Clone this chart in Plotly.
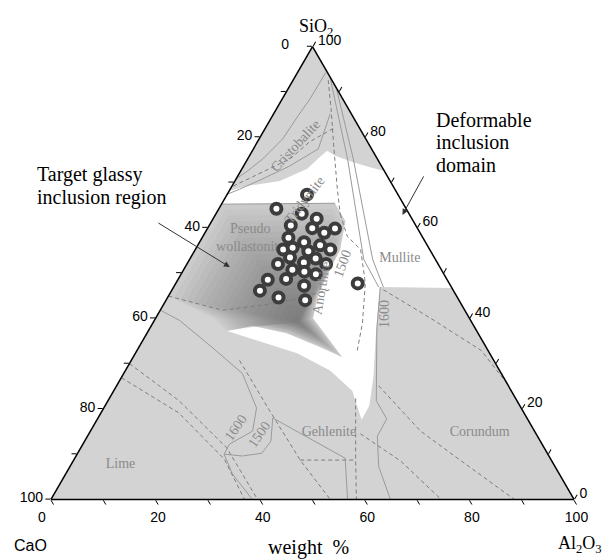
import plotly.graph_objects as go

# ---------------- data (wt %) ----------------
# inclusion compositions
incl_sio2 = [67.3, 64.2, 63.1, 62.0, 59.8, 60.5, 59.9, 58.9, 57.8, 56.8, 56.1, 55.2, 55.2, 55.6, 54.8,
             53.4, 53.2, 52.0, 52.0, 52.3, 50.7, 49.7, 50.3, 48.7, 48.5, 47.2, 46.1, 44.6, 44.0, 47.7]
incl_al2o3 = [15.3, 11.0, 16.4, 19.8, 24.4, 15.6, 20.0, 22.8, 16.5, 20.0, 23.4, 25.8, 16.8, 18.4, 21.8,
              19.0, 24.0, 26.6, 17.4, 22.2, 20.8, 25.8, 23.3, 20.6, 17.2, 24.8, 16.9, 21.2, 26.6, 34.8]

# deformable inclusion domain (white field)
white_sio2 = [68.1, 69.2, 70.3, 73.0, 75.6, 77.0, 75.9, 74.5, 73.2, 72.5, 46.7, 46.9, 38.0, 26.9,
              20.7, 17.6, 21.8, 24.0, 28.5, 32.3, 34.7, 37.2, 65.2]
white_al2o3 = [0.0, 2.8, 8.6, 12.5, 13.6, 14.3, 16.4, 20.4, 24.9, 27.5, 53.3, 39.5, 43.2, 48.2,
               50.5, 50.6, 47.3, 45.6, 39.1, 30.9, 23.1, 15.1, 0.0]

# target glassy inclusion region
glass_sio2 = [65.2, 65.4, 61.4, 55.2, 50.7, 45.2, 40.0, 35.6, 31.4, 33.6, 36.7, 38.3, 37.2, 40.0, 44.9]
glass_al2o3 = [0.0, 21.6, 25.6, 27.7, 28.0, 28.5, 30.1, 35.2, 40.0, 34.7, 26.7, 19.4, 15.1, 11.2, 0.0]
glass_core = (39.2, 27.6)  # darkest composition of the region

# phase boundaries (solid) : (SiO2, Al2O3)
cristobalite_outer = ([94.3, 88.5, 83.7, 79.6, 75.2, 72.5, 70.8], [5.4, 5.3, 4.8, 4.5, 2.9, 1.3, 0.0])
cristobalite_inner = ([85.2, 77.4, 73.6, 70.8, 68.5, 67.4], [10.8, 12.4, 8.8, 5.1, 1.8, 0.0])
mullite_a = ([93.0, 75.2, 53.0, 46.9], [6.9, 19.1, 33.3, 39.2])
mullite_b = ([93.0, 75.2, 53.0, 46.9], [7.6, 20.2, 35.0, 40.1])
corundum_bound = ([46.9, 37.4, 21.8, 17.8, 14.0, 7.3, 0.0], [39.5, 43.6, 51.3, 55.3, 55.4, 59.0, 64.9])
gehlenite_bound = ([18.0, 9.1, 0.0], [33.4, 51.7, 56.7])
lime_bound = ([41.8, 39.6, 33.6, 27.8, 20.2, 15.1, 12.2, 10.0, 5.6, 0.0],
              [0.0, 4.7, 14.0, 22.7, 29.2, 31.0, 28.0, 28.1, 31.9, 38.5])
iso1500_low = ([18.0, 12.9, 10.2, 9.6, 10.0], [33.4, 35.6, 35.2, 31.8, 28.1])
glass_top = ([65.2, 65.4], [0.0, 21.6])
solid_lines = [cristobalite_outer, cristobalite_inner, mullite_a, mullite_b, corundum_bound,
               gehlenite_bound, lime_bound, iso1500_low, glass_top]

# isotherms / tie lines (dashed)
d_cristobalite = ([81.9, 79.0, 75.2, 72.3, 69.0], [13.0, 10.0, 8.1, 4.3, 0.0])
d_apex = ([92.6, 86.3, 77.4, 68.5, 63.0], [6.7, 10.4, 15.4, 20.5, 23.8])
d_anorthite = ([63.0, 58.1, 55.2, 47.8, 38.9, 32.9], [23.8, 27.6, 31.6, 36.2, 40.1, 42.1])
d_corundum1 = ([46.3, 40.0, 32.9, 25.6], [40.4, 52.6, 65.8, 74.4])
d_corundum2 = ([25.1, 15.1, 8.5, 0.0], [50.1, 63.1, 74.2, 88.6])
d_corundum3 = ([14.5, 8.5, 0.0], [51.9, 62.6, 74.6])
d_gehl_h = ([8.7, 8.7], [43.3, 53.9])
d_gehl_v = ([22.3, 8.7, 0.0], [47.1, 53.9, 58.4])
d_gehl_diag = ([30.7, 19.6, 8.7, 0.0], [20.7, 32.0, 43.3, 53.4])
d_lime1 = ([30.0, 21.8, 11.4, 0.0], [0.0, 13.6, 27.9, 39.5])
d_lime2 = ([26.9, 19.1, 8.9, 0.0], [0.0, 14.9, 28.7, 37.0])
d_glass = ([44.9, 41.8, 43.4, 46.3], [0.0, 11.9, 22.1, 30.2])
dashed_lines = [d_cristobalite, d_apex, d_anorthite, d_corundum1, d_corundum2, d_corundum3,
                d_gehl_h, d_gehl_v, d_gehl_diag, d_lime1, d_lime2, d_glass]

# phase field names
label_text = ["Pseudo<br>wollastonite", "Mullite", "Gehlenite", "Corundum", "Lime"]
label_sio2 = [57.6, 53.2, 14.7, 14.7, 7.8]
label_al2o3 = [9.3, 40.1, 45.8, 74.6, 9.4]

# axis ticks (labels read as the complementary oxide along each edge)
tick_vals = list(range(0, 101, 10))
tick_text = [str(100 - v) if v % 20 == 0 else "" for v in tick_vals]
NB = "\u00a0"
a_tick_text = tick_text[:-1] + ["0" + NB * 4]
b_tick_text = tick_text[:-1] + ["0" + NB * 6]
c_tick_text = list(tick_text)


def cao(sio2, al2o3):
    return [100 - s - a for s, a in zip(sio2, al2o3)]


fig = go.Figure()

fig.add_trace(go.Scatterternary(a=white_sio2, b=cao(white_sio2, white_al2o3), c=white_al2o3,
                                mode="lines", fill="toself", fillcolor="white",
                                line=dict(width=0, color="white"), hoverinfo="skip"))

fig.add_trace(go.Scatterternary(a=glass_sio2, b=cao(glass_sio2, glass_al2o3), c=glass_al2o3,
                                mode="lines", fill="toself", fillcolor="#cbcbcb",
                                line=dict(width=0, color="#cbcbcb"), hoverinfo="skip"))
# shading of the glassy region towards its darkest composition
n_layers = 20
for k in range(1, n_layers + 1):
    f = 1 - k / (n_layers + 1)
    s = [glass_core[0] + (v - glass_core[0]) * f for v in glass_sio2]
    c = [glass_core[1] + (v - glass_core[1]) * f for v in glass_al2o3]
    fig.add_trace(go.Scatterternary(a=s, b=cao(s, c), c=c, mode="lines", fill="toself",
                                    fillcolor="rgba(40,40,40,0.028)", line=dict(width=0),
                                    hoverinfo="skip"))

for s, c in solid_lines:
    fig.add_trace(go.Scatterternary(a=s, b=cao(s, c), c=c, mode="lines",
                                    line=dict(color="#9a9a9a", width=1), hoverinfo="skip"))
for s, c in dashed_lines:
    fig.add_trace(go.Scatterternary(a=s, b=cao(s, c), c=c, mode="lines",
                                    line=dict(color="#7d7d7d", width=1, dash="4px,3px"),
                                    hoverinfo="skip"))

fig.add_trace(go.Scatterternary(a=label_sio2, b=cao(label_sio2, label_al2o3), c=label_al2o3,
                                mode="text", text=label_text, textposition="middle center",
                                textfont=dict(family="Liberation Serif", size=14, color="#8a8a8a"),
                                hoverinfo="skip"))

fig.add_trace(go.Scatterternary(a=incl_sio2, b=cao(incl_sio2, incl_al2o3), c=incl_al2o3,
                                mode="markers",
                                marker=dict(size=10, color="white", line=dict(color="#3c3c3c", width=4)),
                                hoverinfo="skip"))


def axis(texts):
    return dict(tickmode="array", tickvals=tick_vals, ticktext=texts, ticks="outside",
                ticklen=5, tickcolor="black", linecolor="black", linewidth=1.5,
                showgrid=False, tickfont=dict(family="Liberation Sans", size=14, color="black"),
                title=dict(text=""))


fig.update_layout(
    width=611, height=560,
    margin=dict(l=51, r=37, t=46, b=60, autoexpand=False),
    paper_bgcolor="white",
    showlegend=False,
    ternary=dict(sum=100, bgcolor="#d3d3d3",
                 aaxis=axis(a_tick_text), baxis=axis(b_tick_text), caxis=axis(c_tick_text)),
)

serif = "Liberation Serif"
ann = []
gray = dict(family=serif, size=14, color="#8a8a8a")
for txt, x, y, ang in [("Cristobalite", 0.468, 0.780, -47), ("Tridymite", 0.486, 0.661, -52),
                       ("Anorthite", 0.518, 0.467, -80), ("1500", 0.558, 0.520, -70),
                       ("1600", 0.639, 0.410, -90), ("1600", 0.354, 0.159, -55),
                       ("1500", 0.398, 0.145, -55)]:
    ann.append(dict(text=txt, x=x, y=y, xref="paper", yref="paper", showarrow=False,
                    xanchor="center", yanchor="middle", textangle=ang, font=gray))

black_serif = dict(family=serif, size=20, color="black")
for txt, x, y in [("Target glassy", -0.0306, 0.716), ("inclusion region", -0.0306, 0.667),
                  ("Deformable", 0.732, 0.837), ("inclusion", 0.732, 0.789), ("domain", 0.732, 0.738)]:
    ann.append(dict(text=txt, x=x, y=y, xref="paper", yref="paper", showarrow=False,
                    xanchor="left", yanchor="middle", font=black_serif))

# arrows
ann.append(dict(text="", x=0.342, y=0.513, xref="paper", yref="paper", showarrow=True,
                ax=-73, ay=-45, arrowhead=2, arrowsize=1.2, arrowwidth=1, arrowcolor="#333"))
ann.append(dict(text="", x=0.672, y=0.628, xref="paper", yref="paper", showarrow=True,
                ax=22, ay=-40, arrowhead=2, arrowsize=1.2, arrowwidth=1, arrowcolor="#333"))

# axis names
ann.append(dict(text="SiO<sub>2</sub>", x=0.506, y=1.040, xref="paper", yref="paper",
                xanchor="center", yanchor="middle",
                showarrow=False, font=dict(family=serif, size=18, color="black")))
ann.append(dict(text="CaO", x=-0.040, y=-0.100, xref="paper", yref="paper",
                xanchor="center", yanchor="middle",
                showarrow=False, font=dict(family="Liberation Sans", size=16, color="black")))
ann.append(dict(text="Al<sub>2</sub>O<sub>3</sub>", x=1.012, y=-0.097, xref="paper", yref="paper",
                xanchor="center", yanchor="middle",
                showarrow=False, font=dict(family=serif, size=18, color="black")))
ann.append(dict(text="weight\u00a0\u00a0%", x=0.492, y=-0.104, xref="paper", yref="paper",
                xanchor="center", yanchor="middle",
                showarrow=False, font=dict(family=serif, size=20, color="black")))

fig.update_layout(annotations=ann)
fig.write_html("out.html", config={"displayModeBar": False},
               post_script="document.body.style.margin='0px';document.body.style.padding='0px';")
